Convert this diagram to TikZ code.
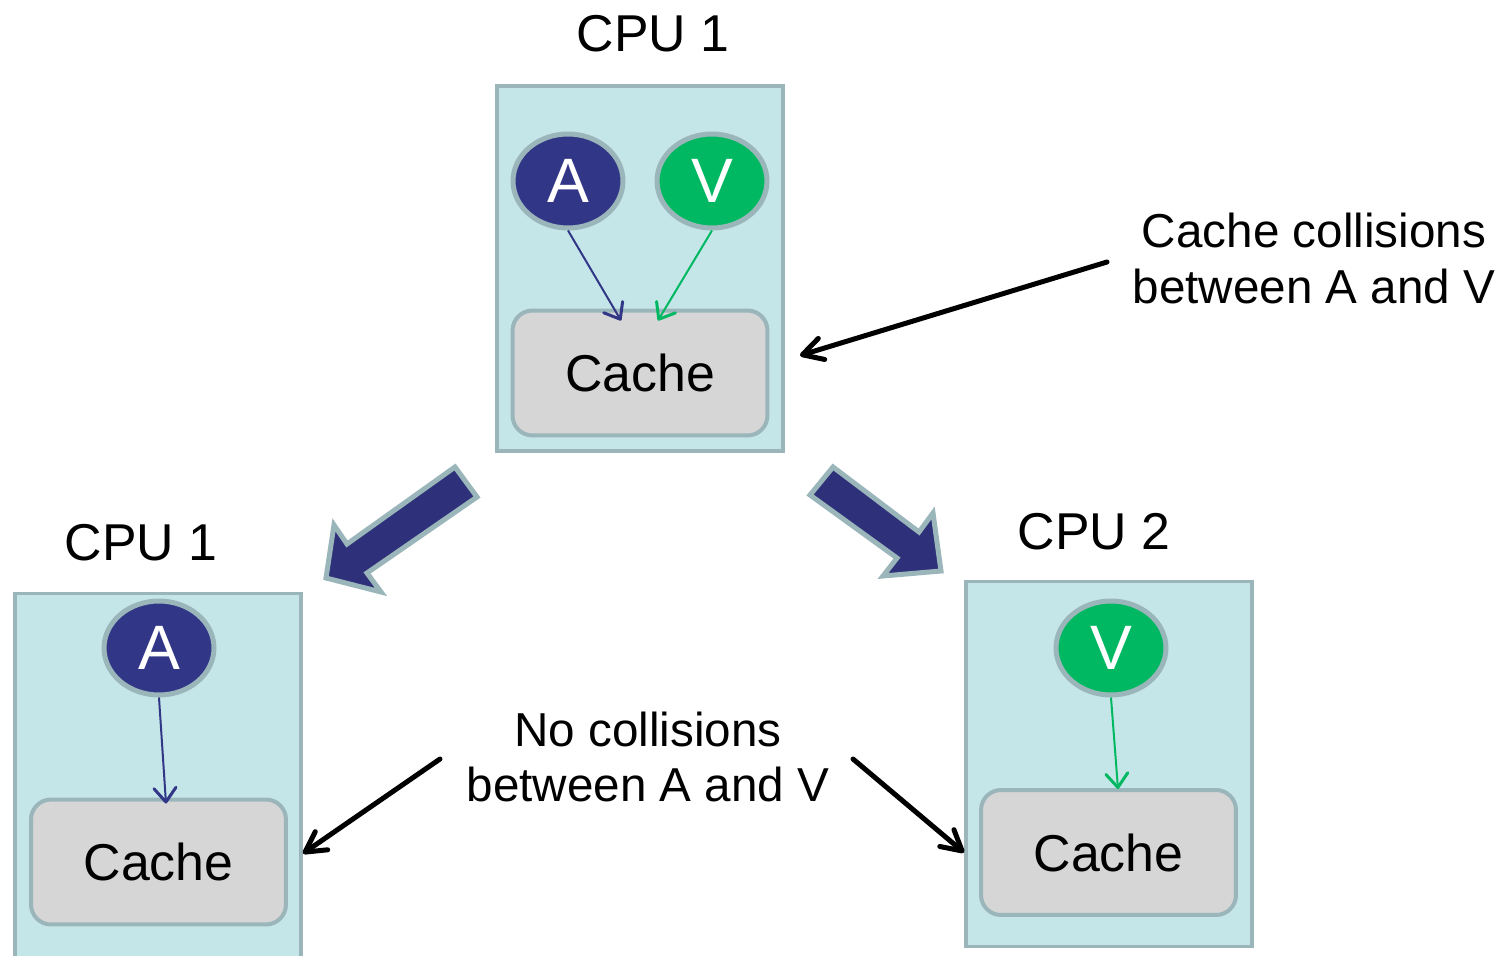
\documentclass[tikz,border=0pt]{standalone}
\usepackage{fontspec}
\setmainfont{Liberation Sans}
\usetikzlibrary{arrows.meta,shapes.geometric,calc}

\definecolor{boxfill}{HTML}{C5E6E8}
\definecolor{boxline}{HTML}{9BB6BA}
\definecolor{navy}{HTML}{313687}
\definecolor{leaf}{HTML}{00B862}
\definecolor{cachefill}{HTML}{D6D6D6}
\definecolor{blockblue}{HTML}{2E3179}

\newcommand{\cpufont}{\fontsize{29.5}{34}\selectfont}
\newcommand{\notefont}{\fontsize{27.1}{31.7}\selectfont}
\newcommand{\varfont}{\fontsize{35.7}{40}\selectfont}

\begin{document}
\begin{tikzpicture}[x=0.02cm,y=-0.02cm,line join=miter]
  \tikzstyle{cpu}=[draw=boxline,fill=boxfill,line width=0.07cm,minimum width=5.73cm,minimum height=7.31cm,inner sep=0]
  \tikzstyle{cache}=[draw=boxline,fill=cachefill,line width=0.08cm,rounded corners=0.4cm,minimum width=5.1cm,minimum height=2.5cm,font=\cpufont]
  \tikzstyle{var}=[ellipse,draw=boxline,line width=0.1cm,minimum width=2.2cm,minimum height=1.88cm,inner sep=0,text=white,font=\varfont]
  \tikzstyle{cpulabel}=[anchor=base,font=\cpufont]
  \tikzstyle{note}=[align=center,font=\notefont]
  \tikzstyle{thin}=[line width=0.04cm,-{Straight Barb[length=2.8mm,width=4.4mm,line width=0.06cm,round]}]
  \tikzstyle{pointer}=[line width=0.1cm,line cap=round,-{Straight Barb[length=4mm,width=4.4mm,round]}]
  \tikzstyle{block}=[fill=blockblue,draw=boxline,line width=0.1cm]

  \clip (0,0) rectangle (1511,956);

  % shared cache
  \node[cpu]            (cpu1)   at (640,268.5) {};
  \node[cpulabel]       (lab1)   at (653,52)    {CPU 1};
  \node[var,fill=navy]  (a1)     at (568,181)   {A};
  \node[var,fill=leaf]  (v1)     at (712,181)   {V};
  \node[cache]          (cache1) at (640,373)   {Cache};

  % split over two cpus
  \node[cpu,anchor=north] (cpu2)   at (158,591.5)   {};
  \node[cpulabel]         (lab2)   at (141,560)     {CPU 1};
  \node[var,fill=navy]    (a2)     at (159,648)     {A};
  \node[cache]            (cache2) at (158.5,862)   {Cache};

  \node[cpu]              (cpu3)   at (1109,764)    {};
  \node[cpulabel]         (lab3)   at (1094,549)    {CPU 2};
  \node[var,fill=leaf]    (v3)     at (1111,648)    {V};
  \node[cache]            (cache3) at (1108.5,852.5) {Cache};

  \path
  (a1.south) edge[thin,navy] ($(cache1.north)+(-19,12)$)
  (v1.south) edge[thin,leaf] ($(cache1.north)+(18,12)$)
  (a2.south) edge[thin,navy] ($(cache2.north)+(7.5,6)$)
  (v3.south) edge[thin,leaf] ($(cache3.north)+(9.5,1)$);

  % notes
  \node[note] (hit)  at (1314,258.5) {Cache collisions\\between A and V};
  \node[note] (miss) at (648,757)    {No collisions\\between A and V};

  \coordinate (hittail)   at (1107,262);
  \coordinate (misstailL) at (440,759);
  \coordinate (misstailR) at (853,759);

  \draw[pointer] (hittail)   -- ($(cpu1.east)+(15,87)$);
  \draw[pointer] (misstailL) -- ($(cpu2.north east)+(0,262)$);
  \draw[pointer] (misstailR) -- ($(cpu3.north west)+(0,273)$);

  % big arrows
  \draw[block] (455,467) -- (347,544) -- (334,525) -- (326,578)
    -- (381,592) -- (367,573) -- (477,497) -- cycle;
  \draw[block] (833,467) -- (919,532) -- (933,513) -- (941,571)
    -- (883,576) -- (897,558) -- (810,495) -- cycle;
\end{tikzpicture}
\end{document}
